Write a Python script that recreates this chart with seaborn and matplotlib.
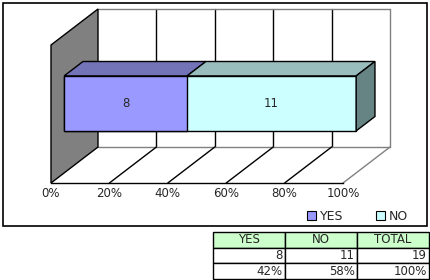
import numpy as np
import pandas as pd
import matplotlib
matplotlib.use("Agg")
import matplotlib.pyplot as plt
import seaborn as sns
from matplotlib.patches import Polygon, Patch, Rectangle
from matplotlib.lines import Line2D
from matplotlib.transforms import ScaledTranslation, IdentityTransform

# ---------------- data ----------------
categories = ["YES", "NO"]
counts = [8, 11]
colors_front = ["#9999FF", "#CCFFFF"]
colors_top = ["#7373B8", "#99BDBD"]
color_end = "#668484"
ticks = [0, 20, 40, 60, 80, 100]
tick_labels = ["0%", "20%", "40%", "60%", "80%", "100%"]
table_header = ["YES", "NO", "TOTAL"]
table_counts = ["8", "11", "19"]
table_pct = ["42%", "58%", "100%"]

# ---------------- style ----------------
sns.set_style("white")
plt.rcParams["font.family"] = ["DejaVu Sans"]
FS = 8.5

W, H = 431, 280
fig = plt.figure(figsize=(W / 100, H / 100), dpi=100)

bg = fig.add_axes([0, 0, 1, 1])
bg.set_xlim(0, W)
bg.set_ylim(H, 0)
bg.axis("off")
bg.add_patch(Rectangle((3, 3), 424, 223, fill=False, ec="black", lw=1.2))

ax = fig.add_axes([51 / W, 97 / H, 292 / W, 138 / H])
ax.patch.set_visible(False)

total = sum(counts)
pct = [c / total * 100 for c in counts]
cum = np.cumsum(pct)
BAR_W = 0.8

n_before = len(ax.patches)
for i in reversed(range(len(categories))):
    sns.barplot(x=[cum[i]], y=["bar"], orient="h", color=colors_front[i],
                saturation=1, width=BAR_W, edgecolor="black", linewidth=1,
                errorbar=None, ax=ax, zorder=5)
bar_patches = list(ax.patches[n_before:])

ax.set_xlim(0, 100)
ax.set_ylim(1.011, -0.996)
ybot, ytop = ax.get_ylim()

DX, DY = 47.0, 36.0      # pixel shift for full depth
D0, D1 = 0.28, 0.68      # bar front / back depth

front_off = ScaledTranslation(DX * D0 / 100, DY * D0 / 100, fig.dpi_scale_trans)
for p in bar_patches:
    p.set_transform(ax.transData + front_off)
    p.set_clip_on(False)


def proj(x, y, d):
    px, py = ax.transData.transform((x, y))
    return (px + DX * d, py + DY * d)


ID = IdentityTransform()


def seg(p, q, color, lw=1.0, z=1):
    ax.add_line(Line2D([p[0], q[0]], [p[1], q[1]], color=color, lw=lw,
                       transform=ID, clip_on=False, zorder=z))


GRAY = "#808080"
# back wall gridlines
for t in ticks[1:-1]:
    seg(proj(t, ytop, 1), proj(t, ybot, 1), "black")
# back wall border
seg(proj(0, ytop, 1), proj(100, ytop, 1), GRAY)
seg(proj(100, ytop, 1), proj(100, ybot, 1), GRAY)
seg(proj(0, ybot, 1), proj(100, ybot, 1), GRAY)
# floor diagonals
for t in ticks[1:]:
    seg(proj(t, ybot, 0), proj(t, ybot, 1), GRAY if t == ticks[-1] else "black")
# left wall
ax.add_patch(Polygon([proj(0, ytop, 0), proj(0, ytop, 1), proj(0, ybot, 1), proj(0, ybot, 0)],
                     closed=True, fc=GRAY, ec="black", lw=1, transform=ID,
                     clip_on=False, zorder=2))

# bar top faces
for i in range(len(categories)):
    x0, x1 = cum[i] - pct[i], cum[i]
    ax.add_patch(Polygon([proj(x0, -BAR_W / 2, D0), proj(x1, -BAR_W / 2, D0),
                          proj(x1, -BAR_W / 2, D1), proj(x0, -BAR_W / 2, D1)],
                         closed=True, fc=colors_top[i], ec="black", lw=1,
                         transform=ID, clip_on=False, zorder=6))
# bar end face
ax.add_patch(Polygon([proj(100, -BAR_W / 2, D0), proj(100, -BAR_W / 2, D1),
                      proj(100, BAR_W / 2, D1), proj(100, BAR_W / 2, D0)],
                     closed=True, fc=color_end, ec="black", lw=1,
                     transform=ID, clip_on=False, zorder=6))

# value labels
for i in range(len(categories)):
    ax.text(cum[i] - pct[i] / 2, 0, str(counts[i]), ha="center", va="center",
            fontsize=FS, transform=ax.transData + front_off, zorder=7)

# axes / ticks
for s in ["top", "right", "left"]:
    ax.spines[s].set_visible(False)
ax.spines["bottom"].set_color("black")
ax.spines["bottom"].set_linewidth(1)
ax.spines["bottom"].set_zorder(3)
ax.set_xticks(ticks, tick_labels)
ax.tick_params(axis="x", length=2, direction="in", pad=3, labelsize=FS, color="black")
ax.set_yticks([])
ax.set_xlabel("")
ax.set_ylabel("")

# legend
handles = [Patch(fc=c, ec="black", lw=0.8) for c in colors_front]
fig.legend(handles, categories, loc="center left", bbox_to_anchor=(307 / W, 1 - 216 / H),
           frameon=False, ncol=2, handlelength=0.75, handleheight=0.75,
           handletextpad=0.3, columnspacing=2.6, borderpad=0, borderaxespad=0,
           fontsize=9)

# table
tbl = bg.table(cellText=[table_counts, table_pct], colLabels=table_header,
               cellLoc="right", colLoc="center", colColours=["#CCFFCC"] * 3,
               bbox=[213 / W, 1 / H, 216 / W, 47 / H])
tbl.auto_set_font_size(False)
tbl.set_fontsize(FS)
for (r, c), cell in tbl.get_celld().items():
    cell.set_linewidth(1)
    cell.set_edgecolor("black")
    cell.PAD = 0.03

fig.savefig("out.png", dpi=100)
